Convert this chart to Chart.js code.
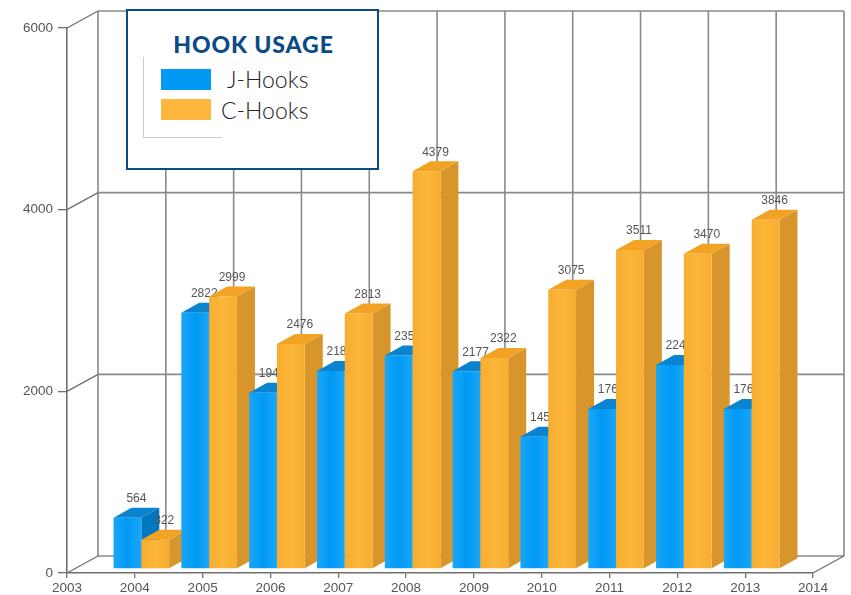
<!DOCTYPE html>
<html>
<head>
<meta charset="utf-8">
<title>Hook usage</title>
<script src="https://cdn.jsdelivr.net/npm/chart.js@4"></script>
<style>
  html, body { margin: 0; padding: 0; background: #fff; }
  #wrap { position: relative; width: 851px; height: 595px; overflow: hidden; }
  #chart { filter: blur(0.4px); }
  #legendBox {
    position: absolute; left: 126px; top: 9px; width: 249px; height: 157px;
    background: #fff; border: 2px solid #0b4a86;
  }
  #legendBox h1 {
    position: absolute; left: 0; top: 18px; width: 251px; margin: 0; text-align: center;
    font: 900 23px/30px Lato, sans-serif; letter-spacing: .9px; color: #0b4a86;
  }
  #legendCorner {
    position: absolute; left: 15px; top: 46px; width: 78px; height: 80px;
    border-left: 1px solid #ccc; border-bottom: 1px solid #ccc;
  }
  .swatch { position: absolute; left: 33px; width: 50px; height: 21px; }
  .name { position: absolute; font: 300 23px/30px Lato, sans-serif; color: #222; }
</style>
</head>
<body>
<div id="wrap">
  <canvas id="chart" width="851" height="595"></canvas>
  <div id="legendBox">
    <h1>HOOK USAGE</h1>
    <div id="legendCorner"></div>
  </div>
</div>
<script>
const years = ['2003', '2004', '2005', '2006', '2007', '2008', '2009', '2010', '2011', '2012', '2013', '2014'];
const jHooks = [null, 564, 2822, 1941, 2181, 2351, 2177, 1457, 1762, 2245, 1761, null];
const cHooks = [null, 322, 2999, 2476, 2813, 4379, 2322, 3075, 3511, 3470, 3846, null];
const seriesNames = ['J-Hooks', 'C-Hooks'];
const legendTitle = 'HOOK USAGE';

const BLUE = { front: '#0099f4', light: '#1aa6f8', side: '#0077bf', top: '#0a83d0' };
const ORANGE = { front: '#fdb63a', light: '#f7ae30', side: '#d8952c', top: '#f2a324' };
const WALL = '#8a8a8a';
const AXIS = '#6f6f6f';

// ========== 3D WALLS ==========
const wallsPlugin = {
  id: 'walls',
  beforeDatasetsDraw(chart) {
    const { ctx, scales: { x, y } } = chart;
    const dx = 31, dy = -17;
    const x0 = x.left, x1 = x.right, y0 = y.bottom, y1 = y.top;

    ctx.save();
    ctx.lineWidth = 1.6;
    ctx.strokeStyle = WALL;

    // back wall grid
    y.ticks.forEach((t, i) => {
      const py = y.getPixelForTick(i);
      line(ctx, x0 + dx, py + dy, x1 + dx, py + dy);
    });
    years.forEach((yr, i) => {
      const px = x.getPixelForTick(i);
      line(ctx, px + dx, y1 + dy, px + dx, y0 + dy);
    });

    // left wall and floor diagonals
    ctx.lineWidth = 1.3;
    ctx.strokeStyle = AXIS;
    y.ticks.forEach((t, i) => {
      const py = y.getPixelForTick(i);
      line(ctx, x0, py, x0 + dx, py + dy);
    });
    line(ctx, x1, y0, x1 + dx, y0 + dy);
    ctx.restore();
  },

  // ========== 3D BARS ==========
  afterDatasetsDraw(chart) {
    const { ctx } = chart;
    const styles = [BLUE, ORANGE];
    for (let i = 0; i < years.length; i++) {
      [0, 1].forEach(d => {
        const el = chart.getDatasetMeta(d).data[i];
        const value = chart.data.datasets[d].data[i];
        if (value == null) return;
        drawBar(ctx, el, value, styles[d]);
      });
    }
  }
};

function line(ctx, ax, ay, bx, by) {
  ctx.beginPath();
  ctx.moveTo(ax, ay);
  ctx.lineTo(bx, by);
  ctx.stroke();
}

function poly(ctx, pts, fill) {
  ctx.beginPath();
  pts.forEach((p, i) => (i ? ctx.lineTo(p[0], p[1]) : ctx.moveTo(p[0], p[1])));
  ctx.closePath();
  ctx.fillStyle = fill;
  ctx.fill();
}

function drawBar(ctx, el, value, c) {
  const shiftX = 6.5, shiftY = -4, depthX = 18, depthY = -10;
  const l = el.x - el.width / 2 + shiftX;
  const r = el.x + el.width / 2 + shiftX;
  const t = el.y + shiftY;
  const b = el.base + shiftY;

  const front = ctx.createLinearGradient(l, 0, r, 0);
  front.addColorStop(0, c.light);
  front.addColorStop(0.5, c.front);
  front.addColorStop(1, c.light);

  poly(ctx, [[r, t], [r + depthX, t + depthY], [r + depthX, b + depthY], [r, b]], c.side);
  poly(ctx, [[l, t], [l + depthX, t + depthY], [r + depthX, t + depthY], [r, t]], c.top);
  poly(ctx, [[l, t], [r, t], [r, b], [l, b]], front);

  ctx.save();
  ctx.font = '12px "Liberation Sans", Arial, sans-serif';
  ctx.fillStyle = '#555';
  ctx.textAlign = 'center';
  ctx.textBaseline = 'middle';
  ctx.fillText(String(value), (l + r + depthX) / 2, t + depthY - 9);
  ctx.restore();
}

new Chart(document.getElementById('chart'), {
  type: 'bar',
  data: {
    labels: years,
    datasets: [
      { label: seriesNames[0], data: jHooks, backgroundColor: 'transparent' },
      { label: seriesNames[1], data: cHooks, backgroundColor: 'transparent' }
    ]
  },
  options: {
    responsive: false,
    animation: false,
    categoryPercentage: 0.82,
    barPercentage: 1,
    layout: { padding: { top: 28, right: 38, left: 0, bottom: 0 } },
    plugins: { legend: { display: false }, tooltip: { enabled: false } },
    scales: {
      x: {
        offset: false,
        afterFit(scale) { scale.height = 22; },
        grid: { offset: false, drawOnChartArea: false, drawTicks: true, tickLength: 5, color: AXIS, lineWidth: 1.3 },
        border: { color: AXIS, width: 1.6 },
        ticks: {
          autoSkip: false, maxRotation: 0, padding: 2, color: '#555',
          font: { family: '"Liberation Sans", Arial, sans-serif', size: 13.5 }
        }
      },
      y: {
        min: 0,
        max: 6000,
        afterFit(scale) { scale.width = 67; },
        grid: { drawOnChartArea: false, drawTicks: true, tickLength: 9, color: AXIS, lineWidth: 1.3 },
        border: { color: AXIS, width: 1.6 },
        ticks: {
          stepSize: 2000, padding: 5, color: '#555',
          font: { family: '"Liberation Sans", Arial, sans-serif', size: 13.5 },
          callback: v => String(v)
        }
      }
    }
  },
  plugins: [wallsPlugin]
});

// ========== LEGEND ==========
const box = document.getElementById('legendBox');
box.querySelector('h1').textContent = legendTitle;
[
  { color: BLUE.front, swatchTop: 58, left: 99, top: 53 },
  { color: '#feb63c', swatchTop: 88, left: 93, top: 84 }
].forEach((row, i) => {
  const sw = document.createElement('div');
  sw.className = 'swatch';
  sw.style.top = row.swatchTop + 'px';
  sw.style.background = row.color;
  box.appendChild(sw);

  const label = document.createElement('div');
  label.className = 'name';
  label.textContent = seriesNames[i];
  label.style.left = row.left + 'px';
  label.style.top = row.top + 'px';
  box.appendChild(label);
});
</script>
</body>
</html>
